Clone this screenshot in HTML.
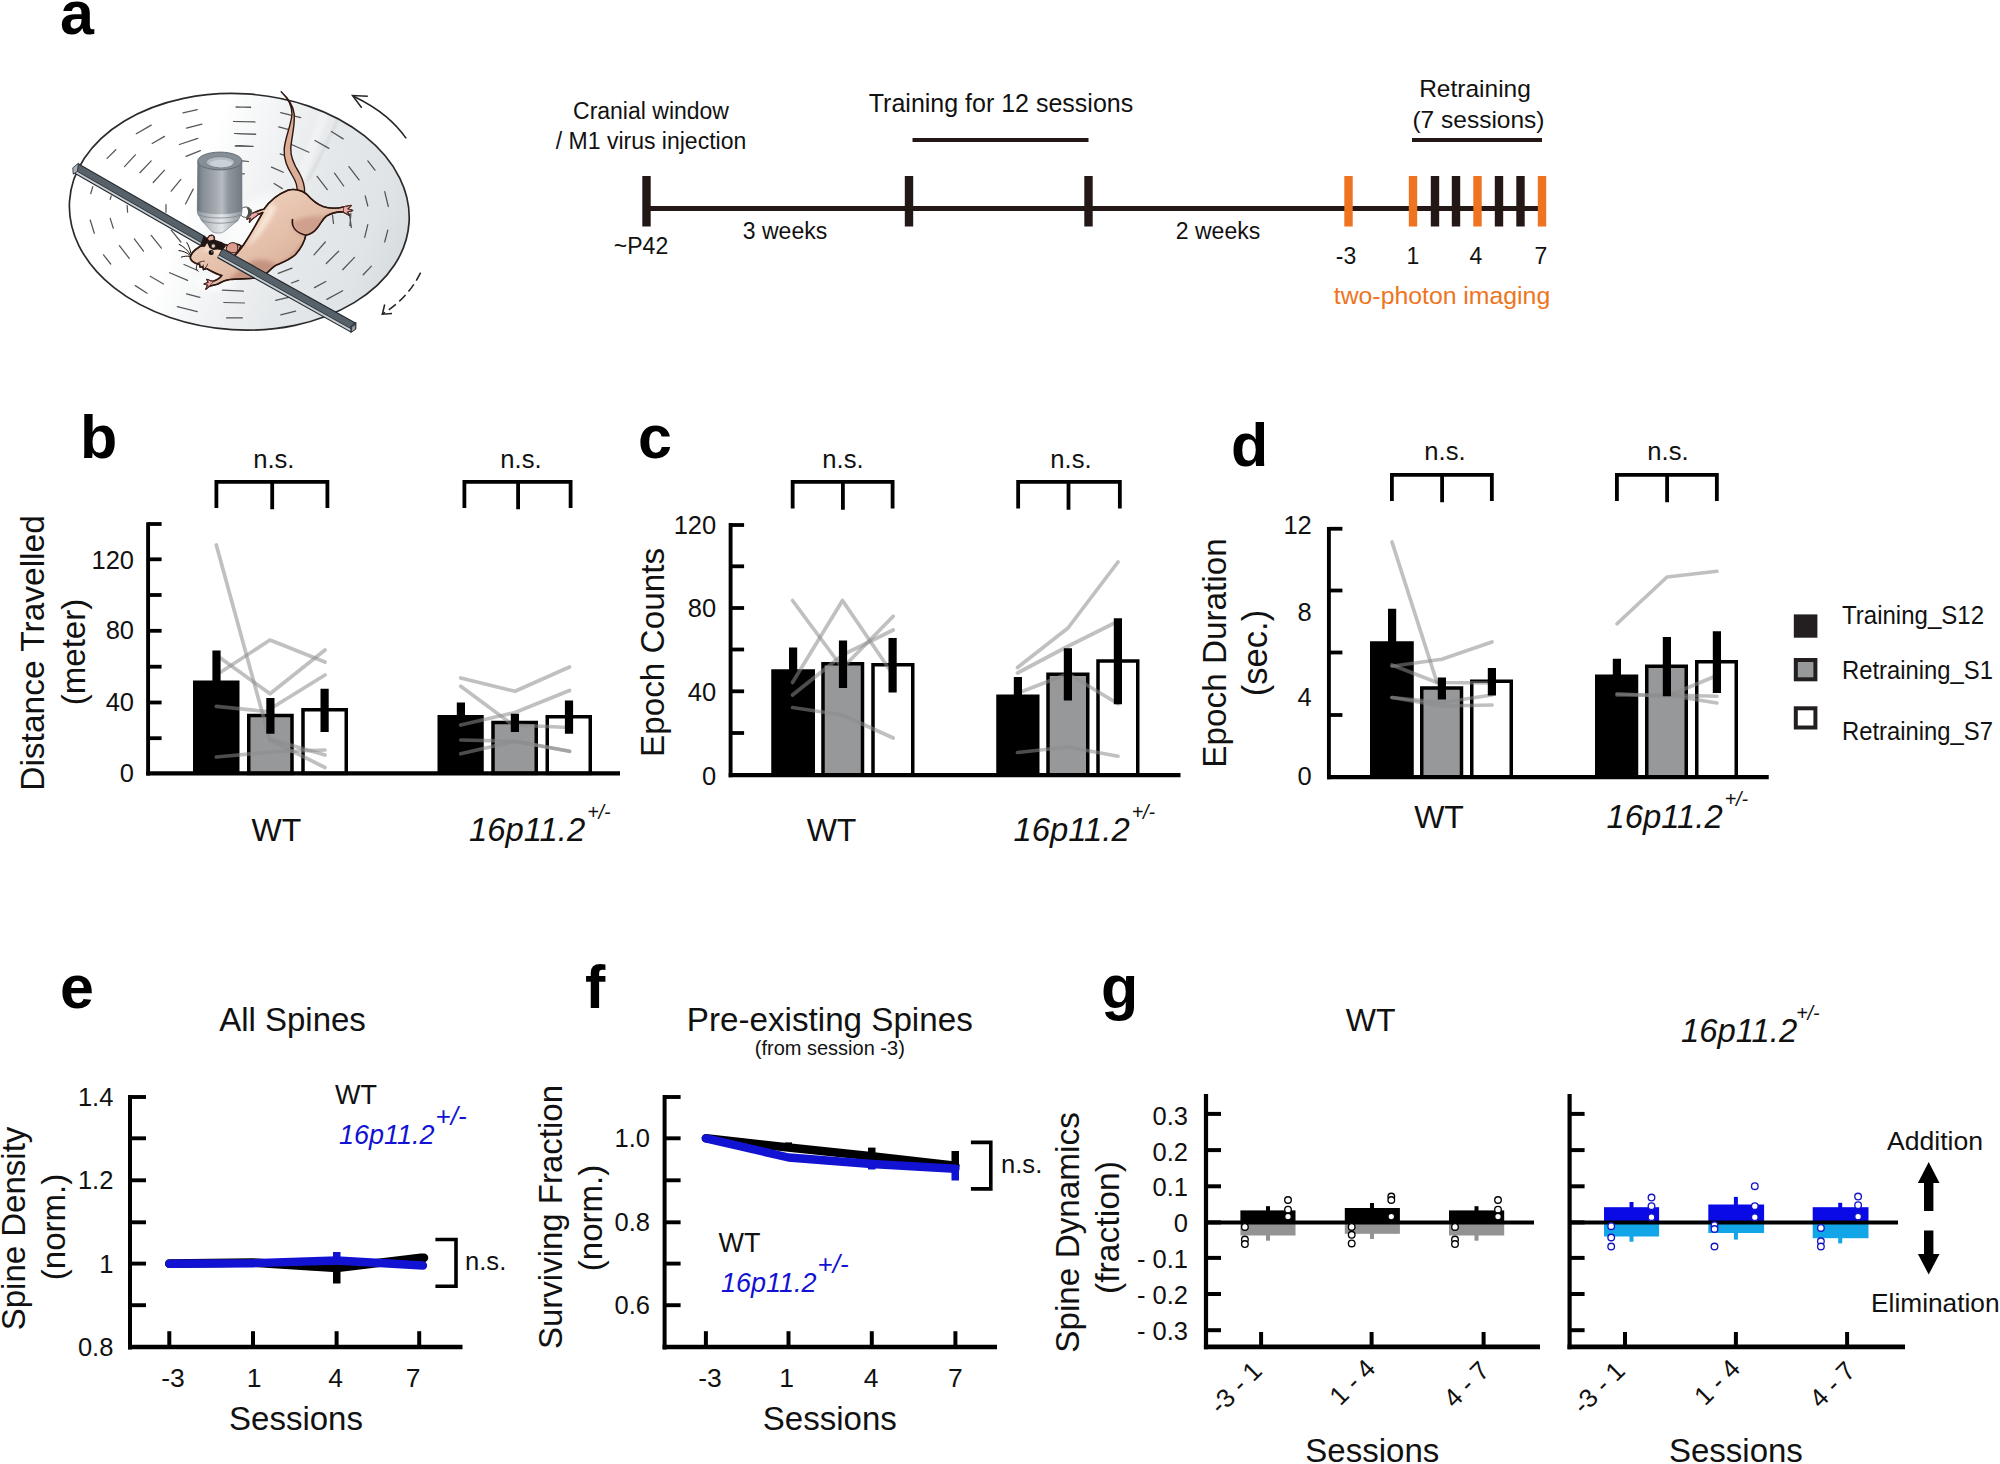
<!DOCTYPE html>
<html><head><meta charset="utf-8"><title>Figure</title>
<style>
html,body{margin:0;padding:0;background:#fff;}
svg{display:block;}
text{font-family:"Liberation Sans",Arial,sans-serif;}
</style></head><body>
<svg width="2000" height="1464" viewBox="0 0 2000 1464">
<rect x="0" y="0" width="2000" height="1464" fill="#fff"/>
<defs>
<linearGradient id="gdisc" gradientUnits="userSpaceOnUse" x1="170" y1="180" x2="400" y2="250">
 <stop offset="0.1" stop-color="#ffffff"/><stop offset="0.33" stop-color="#f1f3f4"/>
 <stop offset="0.6" stop-color="#e5e8ea"/><stop offset="0.85" stop-color="#e0e4e6"/><stop offset="1" stop-color="#d8dde0"/>
</linearGradient>
<filter id="blur2" x="-20%" y="-20%" width="140%" height="140%"><feGaussianBlur stdDeviation="2.2"/></filter>
<filter id="blur1" x="-20%" y="-20%" width="140%" height="140%"><feGaussianBlur stdDeviation="1.2"/></filter>
<radialGradient id="gspot" cx="0.5" cy="0.5" r="0.5">
 <stop offset="0" stop-color="#fff" stop-opacity="0.95"/><stop offset="0.6" stop-color="#fff" stop-opacity="0.6"/><stop offset="1" stop-color="#fff" stop-opacity="0"/>
</radialGradient>
<linearGradient id="gobj" x1="0" y1="0" x2="1" y2="0">
 <stop offset="0" stop-color="#6b737a"/><stop offset="0.12" stop-color="#868e95"/><stop offset="0.42" stop-color="#a4abb1"/>
 <stop offset="0.55" stop-color="#b7bdc2"/><stop offset="0.7" stop-color="#8f979e"/><stop offset="1" stop-color="#727a82"/>
</linearGradient>
<linearGradient id="gobj2" x1="0" y1="0" x2="1" y2="0">
 <stop offset="0" stop-color="#8d959b"/><stop offset="0.35" stop-color="#c9ced2"/><stop offset="0.55" stop-color="#e4e7e9"/>
 <stop offset="0.8" stop-color="#b0b7bc"/><stop offset="1" stop-color="#8e969c"/>
</linearGradient>
<linearGradient id="gbody" x1="0" y1="0" x2="1" y2="1">
 <stop offset="0" stop-color="#f4dccb"/><stop offset="0.45" stop-color="#e6c2ad"/><stop offset="1" stop-color="#cfa08b"/>
</linearGradient>
<clipPath id="cdisc"><ellipse cx="239.3" cy="211.8" rx="170.1" ry="118.1" transform="rotate(3.57 239.3 211.8)"/></clipPath>
</defs>
<g id="illus">
<ellipse cx="239.3" cy="211.8" rx="170.1" ry="118.1" transform="rotate(3.57 239.3 211.8)" fill="url(#gdisc)"/>
<g clip-path="url(#cdisc)">
<ellipse cx="255" cy="225" rx="46" ry="30" transform="rotate(-38 255 225)" fill="url(#gspot)"/>
<ellipse cx="215" cy="283" rx="26" ry="11" fill="url(#gspot)" fill-opacity="0.8"/>
<path d="M300 178 C312 150 318 130 326 108" fill="none" stroke="#f4f6f7" stroke-width="9" stroke-opacity="0.55" stroke-linecap="round" filter="url(#blur1)"/>
<path d="M308 180 C322 155 330 135 340 116" fill="none" stroke="#cbd1d5" stroke-width="3" stroke-opacity="0.5" stroke-linecap="round" filter="url(#blur1)"/>
</g>
<ellipse cx="239.3" cy="211.8" rx="170.1" ry="118.1" transform="rotate(3.57 239.3 211.8)" fill="none" stroke="#2a2a2c" stroke-width="1.7"/>
<path d="M183.0 112.8L197.3 109.7 M236.2 107.2L250.6 107.2 M234.2 121.5L254.7 121.8 M186.5 128.2L201.9 124.1 M235.7 133.6L255.7 134.3 M136.3 133.8L151.2 125.1 M152.2 143.5L164.5 136.4 M179.4 144.5L197.8 138.4 M236.2 145.6L252.6 146.4 M186.0 156.3L200.4 150.7 M107.1 158.4L115.8 149.7 M124.5 166.6L135.3 154.8 M139.9 172.7L151.2 160.9 M153.2 182.5L164.5 170.2 M171.2 191.2L180.9 179.4 M185.5 204.0L193.2 189.1 M90.7 193.7L92.8 186.6 M110.2 199.4L111.2 195.8 M127.6 212.2L127.1 205.5 M166.0 212.2L166.0 204.5 M242.4 160.9L248.5 161.5 M242.4 173.8L244.4 173.8 M236.1 106.8L250.5 107.5 M233.6 121.5L255.1 122.0 M234.6 133.5L255.6 134.1 M235.1 146.1L253.1 146.4 M280.7 112.6L300.7 117.7 M278.7 126.9L288.9 129.7 M291.5 144.5L308.9 152.2 M280.2 153.8L285.8 155.8 M271.5 167.1L283.3 172.2 M274.1 183.5L282.3 188.6 M315.0 140.5L328.9 148.4 M331.4 131.5L343.2 138.9 M317.1 176.3L327.3 189.6 M334.5 173.2L343.7 186.0 M348.9 166.6L359.1 179.9 M367.8 160.9L375.0 170.2 M384.7 191.7L388.3 206.5 M365.2 195.8L367.8 206.0 M332.5 215.2L333.5 223.4 M349.4 214.2L351.4 227.5 M350.9 213.3L349.9 225.6 M367.8 224.6L364.7 237.4 M387.8 230.2L384.7 242.0 M325.3 242.0L314.0 254.8 M338.6 251.2L326.3 263.5 M354.5 257.4L342.7 269.7 M371.4 266.1L363.2 274.8 M292.0 268.1L278.2 273.3 M298.6 280.4L291.5 283.0 M325.8 281.5L314.5 287.6 M342.7 290.7L326.8 299.4 M290.5 296.8L275.6 300.4 M295.6 311.2L280.7 314.8 M90.2 220.0L94.3 233.3 M110.2 218.4L113.3 228.2 M103.5 254.8L110.7 264.0 M119.4 245.6L129.2 258.4 M134.3 238.9L143.5 251.2 M151.2 235.3L161.4 248.2 M171.2 230.2L180.9 242.0 M184.0 264.5L197.3 270.2 M169.6 272.7L187.6 280.4 M150.2 276.3L163.5 284.0 M135.3 285.6L147.1 293.2 M186.5 293.8L199.9 297.3 M177.3 306.6L197.3 311.7 M222.4 290.2L243.4 291.2 M223.9 302.5L244.4 303.0 M226.5 317.8L242.4 317.8" fill="none" stroke="#444446" stroke-width="1.25" stroke-linecap="round" stroke-opacity="0.9"/>
<path d="M406.2 138.4 C396 124 382 110 353 96" fill="none" stroke="#242424" stroke-width="1.55"/>
<path d="M367.8 96.2 L352.6 95.6 L361.7 107.7" fill="none" stroke="#242424" stroke-width="1.55"/>
<path d="M420.6 272.7 C412 290 400 303 382.5 314" fill="none" stroke="#242424" stroke-width="1.55" stroke-dasharray="9 4.5"/>
<path d="M384.7 304.5 L382.3 314.2 L392 313.6" fill="none" stroke="#242424" stroke-width="1.55"/>
<path d="M281.2 91.8 C288 98 293.2 105 294.2 114 C295.2 125 291.6 137 290.8 148 C290.3 158 294.5 165.5 299 172.5 C303 179.5 305 186 304.6 193 L297 192.5 C298 187 295.8 181 292 175 C287.5 167.5 283.5 160 284.2 149 C285 138 291.2 125 292 114 C292.2 106 288 98.5 281.2 91.8Z" fill="#dcae98" stroke="#2e1710" stroke-width="1.4" stroke-linejoin="round"/>
<path d="M287.4 190.4 C293 188.5 301 189.5 306.5 194 C311 199 316 204 323 206.5 C330 209 337 208.5 343.5 207 L351 205.5 L347.5 209 L352.5 210.5 L347 212 L349 215 L343.5 212 C338 211.5 332 213 326.5 216 C322.5 219 321 223 318 227 C314.5 232 310 234.5 305.8 235.2 C304.5 242 300.5 249 295.5 254.5 C290.5 259.5 282.5 262.5 275.5 265.5 C270.5 268.5 268 273 262 277 C252 279.5 240 278.5 230 279.5 C225 280 221 282 217.5 284.2 L209 286.3 L206 289 L208 285 L204.3 284 L208.5 282.5 L207 279.5 L212 281.5 C216 280.5 219.5 278.8 221.8 275.5 C216 274 210 270.5 206.5 268.5 L203.5 269.6 L202.8 266.8 L200 267 L199.5 264.3 L196.5 263.7 C193.5 262.3 190.6 260.5 190.3 257.8 C190.5 255 192 252.5 195 250 C199.5 246.5 205 243.5 208 241.5 C207 238 209 235 212.5 235.5 C214.5 236.5 214.6 239.5 213.6 242 C220 243.5 227 245 232 246.5 C234.5 244 238.5 243.5 241 246 C239 251 236.5 254.5 233.5 256.5 C238 252.5 243 246 247 239.5 C252.5 231 257.5 221.5 262.8 212.5 L258 214.5 L252 219 L249.5 222 L250.8 217.8 L247 219 L250 215.5 L247.5 213.2 L252.5 213.5 C256 211.8 260 209.5 263.8 209.3 C268.5 202.5 277 194.5 287.4 190.4Z" fill="url(#gbody)" stroke="#2e1710" stroke-width="1.2" stroke-linejoin="round"/>
<clipPath id="cbody"><path d="M287.4 190.4 C293 188.5 301 189.5 306.5 194 C311 199 316 204 323 206.5 C330 209 337 208.5 343.5 207 L351 205.5 L347.5 209 L352.5 210.5 L347 212 L349 215 L343.5 212 C338 211.5 332 213 326.5 216 C322.5 219 321 223 318 227 C314.5 232 310 234.5 305.8 235.2 C304.5 242 300.5 249 295.5 254.5 C290.5 259.5 282.5 262.5 275.5 265.5 C270.5 268.5 268 273 262 277 C252 279.5 240 278.5 230 279.5 C225 280 221 282 217.5 284.2 L209 286.3 L206 289 L208 285 L204.3 284 L208.5 282.5 L207 279.5 L212 281.5 C216 280.5 219.5 278.8 221.8 275.5 C216 274 210 270.5 206.5 268.5 L203.5 269.6 L202.8 266.8 L200 267 L199.5 264.3 L196.5 263.7 C193.5 262.3 190.6 260.5 190.3 257.8 C190.5 255 192 252.5 195 250 C199.5 246.5 205 243.5 208 241.5 C207 238 209 235 212.5 235.5 C214.5 236.5 214.6 239.5 213.6 242 C220 243.5 227 245 232 246.5 C234.5 244 238.5 243.5 241 246 C239 251 236.5 254.5 233.5 256.5 C238 252.5 243 246 247 239.5 C252.5 231 257.5 221.5 262.8 212.5 L258 214.5 L252 219 L249.5 222 L250.8 217.8 L247 219 L250 215.5 L247.5 213.2 L252.5 213.5 C256 211.8 260 209.5 263.8 209.3 C268.5 202.5 277 194.5 287.4 190.4Z"/></clipPath>
<g clip-path="url(#cbody)">
<path d="M262 279 C250 281.5 238 280 228 281 C236 272 242 268 250 262 C258 258 268 260 277 264 C272 268.5 268 274 262 279Z" fill="#bd8b78" fill-opacity="0.8" filter="url(#blur2)"/>
<path d="M292 222 C292 228 296 234 305.8 237 C312 236 316 233 320 228 C323 224 325 220 330 216 C318 216 302 216 292 222Z" fill="#cb9b87" fill-opacity="0.85" filter="url(#blur2)"/>
<path d="M300 245 C294 255 285 262 272 267 L280 272 C292 266 302 256 308 240Z" fill="#c6947f" fill-opacity="0.75" filter="url(#blur2)"/>
<path d="M270 203 C263 217 256 231 247 246 C258 240 268 225 277 207Z" fill="#fae9da" fill-opacity="0.9" filter="url(#blur2)"/>
<path d="M206 246 C214 247 224 250 230 253 L226 258 C218 255 210 252 202 252Z" fill="#f6dcc8" fill-opacity="0.7" filter="url(#blur1)"/>
</g>
<path d="M287.4 190.4 C293 188.5 301 189.5 306.5 194 C311 199 316 204 323 206.5 C330 209 337 208.5 343.5 207 L351 205.5 L347.5 209 L352.5 210.5 L347 212 L349 215 L343.5 212 C338 211.5 332 213 326.5 216 C322.5 219 321 223 318 227 C314.5 232 310 234.5 305.8 235.2 C304.5 242 300.5 249 295.5 254.5 C290.5 259.5 282.5 262.5 275.5 265.5 C270.5 268.5 268 273 262 277 C252 279.5 240 278.5 230 279.5 C225 280 221 282 217.5 284.2 L209 286.3 L206 289 L208 285 L204.3 284 L208.5 282.5 L207 279.5 L212 281.5 C216 280.5 219.5 278.8 221.8 275.5 C216 274 210 270.5 206.5 268.5 L203.5 269.6 L202.8 266.8 L200 267 L199.5 264.3 L196.5 263.7 C193.5 262.3 190.6 260.5 190.3 257.8 C190.5 255 192 252.5 195 250 C199.5 246.5 205 243.5 208 241.5 C207 238 209 235 212.5 235.5 C214.5 236.5 214.6 239.5 213.6 242 C220 243.5 227 245 232 246.5 C234.5 244 238.5 243.5 241 246 C239 251 236.5 254.5 233.5 256.5 C238 252.5 243 246 247 239.5 C252.5 231 257.5 221.5 262.8 212.5 L258 214.5 L252 219 L249.5 222 L250.8 217.8 L247 219 L250 215.5 L247.5 213.2 L252.5 213.5 C256 211.8 260 209.5 263.8 209.3 C268.5 202.5 277 194.5 287.4 190.4Z" fill="none" stroke="#2e1710" stroke-width="1.65" stroke-linejoin="round"/>
<path d="M292.5 219.5 C291.5 226 295 232.5 305.8 235.2" fill="none" stroke="#2e1710" stroke-width="1.7" stroke-linecap="round"/>
<path d="M343.5 207 L351 205.5 L347.5 209 L352.5 210.5 L347 212 L349 215 L343.5 212Z" fill="#eeaaa8" stroke="#5a2a25" stroke-width="0.8"/>
<path d="M258 214.5 L252 219 L249.5 222 L250.8 217.8 L247 219 L250 215.5 L247.5 213.2 L252.5 213.5 L256.5 212Z" fill="#eeaaa8" stroke="#5a2a25" stroke-width="0.8"/>
<path d="M214.5 280.7 L209 286.3 L206 289 L208 285 L204.3 284 L208.5 282.5 L207 279.5 L212 281.5Z" fill="#eeaaa8" stroke="#5a2a25" stroke-width="0.8"/>
<path d="M226.3 250 C226 245 230 241.5 235 243 C238.5 244.5 238.5 249 236.5 252.5 C233.5 253.5 229 252.5 226.3 250Z" fill="#d99c8f" stroke="#2e1710" stroke-width="1"/>
<path d="M207.7 241.5 C206.8 238 209 235 212.5 235.5 C214.5 236.5 214.6 239.5 213.6 242Z" fill="#e7b3a4" stroke="#2e1710" stroke-width="1"/>
<circle cx="211.2" cy="252.6" r="2.5" fill="#0d0d0d"/><circle cx="211.9" cy="251.9" r="0.6" fill="#fff"/>
<path d="M196.5 263.7 C199 262 201.5 261 204.8 261.2 M199.5 264.3 L200.2 262.3 M202.8 266.8 L203.4 264.6 M205 268 C206.5 266.5 207.3 265.5 207.8 263.6" fill="none" stroke="#2e1710" stroke-width="0.8"/>
<path d="M190.6 254.8 C187 249.5 183.5 246.5 178.8 244.2 M190.3 255.5 C186 252 182.5 251 178.5 250.5 M191 253.6 C190 248.5 188.5 245.5 186.6 242.2 M190.8 256.5 C187 255.8 184 256.2 181 257.2 M197.3 264.5 C195.5 268 196.5 270 198.5 271.5" fill="none" stroke="#1a1210" stroke-width="1"/>
<path d="M78.4 163.2L205.5 236.2L200.3 246.0L73.2 173.0Z" fill="#20252a"/>
<path d="M78.60000000000001 164.5L204.7 236.9L201.6 242.4L75.5 170.0Z" fill="#57616a"/>
<path d="M75.0 170.5L201.1 242.9L200.5 244.8L74.10000000000001 172.2Z" fill="#c6cdd2"/>
<path d="M222.3 248.0L356 322.7L350.8 332.6L217.10000000000002 257.9Z" fill="#20252a"/>
<path d="M222.5 249.3L355.2 323.4L352.1 329.0L219.4 254.9Z" fill="#57616a"/>
<path d="M218.9 255.4L351.6 329.5L351.0 331.4L218.0 257.1Z" fill="#c6cdd2"/>
<path d="M78.4 163.2 L72.8 167.8 L73.2 174.2 L77.4 171.5Z" fill="#aab2b8" stroke="#20252a" stroke-width="0.8"/>
<path d="M356 322.4 L351 326.2 L350.8 332.6 L355.8 329.2Z" fill="#4a5259" stroke="#20252a" stroke-width="0.9"/>
<path d="M352.2 327.2 L352.1 331.2 L354.9 329.2 L354.9 325.4Z" fill="#9aa2a8"/>
<path d="M203.6 235.4 L206.2 236.9 L208.5 239.5 L205 246.8 L201.2 246.9 L200.6 244.6Z" fill="#1f1512"/>
<path d="M204.8 237.9 L209.5 240.6 L214.1 239.6 L222.3 242.3 L226 246 L222.3 250.2 L217.6 249.5 L213 250 L209.5 248.1 L207.2 242.9Z" fill="#1f1512"/>
<circle cx="213.3" cy="246" r="2.2" fill="#dcc9bf" stroke="#1f1512" stroke-width="0.8"/>
<ellipse cx="245.8" cy="212.2" rx="6" ry="5.2" fill="#fff" stroke="#3a3a3a" stroke-width="0.9"/>
<path d="M246.5 207.6 C250.5 208 252.3 211 251.3 214.5 C250 216.8 247.5 217.3 246.3 216.8 C248.5 214.5 248.8 210.5 246.5 207.6Z" fill="#4a4f4a"/>
<path d="M197.8 161 L197.3 211 C197.3 213.5 198 215 199.5 216.5 C200.2 218 200.6 219.2 201.6 220.6 L211.8 231.6 C215 233.6 221.5 233.6 224 231.6 L237.8 220.6 C238.8 219.2 239.2 218 240 216.5 C241.4 215 242 213.5 242 211 L241.9 161Z" fill="url(#gobj2)" stroke="#6a7278" stroke-width="0.6"/>
<path d="M197.8 161 L197.3 210.5 C205 215.5 234 215.5 242 210.5 L241.9 161Z" fill="url(#gobj)"/>
<path d="M198.6 214.8 C207 219 233 219 241 214.8 M201.2 220.2 C209 224.2 231 224.2 238.2 220.2" fill="none" stroke="#7d858b" stroke-width="0.8"/>
<ellipse cx="219.85" cy="161" rx="22.05" ry="8.9" fill="#878f96" stroke="#5f676e" stroke-width="0.9"/>
<ellipse cx="220.3" cy="162.2" rx="14.3" ry="5.6" fill="#b4bcc2" stroke="#757e86" stroke-width="0.9"/>
<ellipse cx="221.2" cy="163.6" rx="11.2" ry="3.8" fill="#cbd2d7"/>
</g>
<text x="60" y="34" font-size="61" font-weight="bold" fill="#000">a</text>
<text x="80" y="458" font-size="61" font-weight="bold" fill="#000">b</text>
<text x="638" y="458" font-size="61" font-weight="bold" fill="#000">c</text>
<text x="1231" y="466" font-size="61" font-weight="bold" fill="#000">d</text>
<text x="60" y="1008" font-size="61" font-weight="bold" fill="#000">e</text>
<text x="585" y="1008" font-size="61" font-weight="bold" fill="#000">f</text>
<text x="1101" y="1008" font-size="61" font-weight="bold" fill="#000">g</text>
<line x1="646" y1="208.5" x2="1542" y2="208.5" stroke="#231815" stroke-width="5" />
<rect x="642.3" y="176" width="8.4" height="50.5" fill="#231815" />
<rect x="904.8" y="176" width="8.4" height="50.5" fill="#231815" />
<rect x="1084.3" y="176" width="8.4" height="50.5" fill="#231815" />
<rect x="1430.8" y="176" width="8.4" height="50.5" fill="#231815" />
<rect x="1451.8" y="176" width="8.4" height="50.5" fill="#231815" />
<rect x="1494.8" y="176" width="8.4" height="50.5" fill="#231815" />
<rect x="1516.3" y="176" width="8.4" height="50.5" fill="#231815" />
<rect x="1344.3" y="176" width="8.4" height="50.5" fill="#ee7421" />
<rect x="1408.8" y="176" width="8.4" height="50.5" fill="#ee7421" />
<rect x="1473.3" y="176" width="8.4" height="50.5" fill="#ee7421" />
<rect x="1537.8" y="176" width="8.4" height="50.5" fill="#ee7421" />
<line x1="912.5" y1="140" x2="1088.5" y2="140" stroke="#231815" stroke-width="4.2" />
<line x1="1412" y1="140" x2="1542" y2="140" stroke="#231815" stroke-width="4.2" />
<text x="651" y="119" font-size="23" text-anchor="middle" fill="#111" >Cranial window</text>
<text x="651" y="149" font-size="23" text-anchor="middle" fill="#111" >/ M1 virus injection</text>
<text x="1001" y="112" font-size="25" text-anchor="middle" fill="#111" >Training for 12 sessions</text>
<text x="1475" y="97" font-size="24.5" text-anchor="middle" fill="#111" >Retraining</text>
<text x="1478.5" y="128" font-size="24.5" text-anchor="middle" fill="#111" >(7 sessions)</text>
<text x="641" y="254" font-size="23" text-anchor="middle" fill="#111" >~P42</text>
<text x="785" y="239" font-size="23" text-anchor="middle" fill="#111" >3 weeks</text>
<text x="1218" y="239" font-size="23" text-anchor="middle" fill="#111" >2 weeks</text>
<text x="1346" y="264" font-size="23" text-anchor="middle" fill="#111" >-3</text>
<text x="1413" y="264" font-size="23" text-anchor="middle" fill="#111" >1</text>
<text x="1476" y="264" font-size="23" text-anchor="middle" fill="#111" >4</text>
<text x="1541" y="264" font-size="23" text-anchor="middle" fill="#111" >7</text>
<text x="1442" y="304" font-size="24.8" text-anchor="middle" fill="#ee7421" >two-photon imaging</text>
<rect x="193" y="680.5" width="46.5" height="92.89999999999998" fill="#000" />
<rect x="248.75" y="715.5" width="43.25" height="57.89999999999998" fill="#96989a" stroke="#000" stroke-width="3.5" />
<rect x="303.0" y="709.75" width="43.25" height="63.64999999999998" fill="#fff" stroke="#000" stroke-width="3.5" />
<rect x="437.5" y="715" width="46.25" height="58.39999999999998" fill="#000" />
<rect x="493.0" y="722.5" width="43.25" height="50.89999999999998" fill="#96989a" stroke="#000" stroke-width="3.5" />
<rect x="547.25" y="716.75" width="43.0" height="56.64999999999998" fill="#fff" stroke="#000" stroke-width="3.5" />
<polyline points="216.3,545 269.5,739 325,755" fill="none" stroke="#8c8c8c" stroke-width="3.7" stroke-opacity="0.55" stroke-linejoin="round" stroke-linecap="round" />
<polyline points="216.3,655 270,693.8 325,650" fill="none" stroke="#8c8c8c" stroke-width="3.7" stroke-opacity="0.55" stroke-linejoin="round" stroke-linecap="round" />
<polyline points="216.3,675 270,640 325,662" fill="none" stroke="#8c8c8c" stroke-width="3.7" stroke-opacity="0.55" stroke-linejoin="round" stroke-linecap="round" />
<polyline points="216.3,706.3 266,711.5 325,675" fill="none" stroke="#8c8c8c" stroke-width="3.7" stroke-opacity="0.55" stroke-linejoin="round" stroke-linecap="round" />
<polyline points="216.3,757 270,752 325,750" fill="none" stroke="#8c8c8c" stroke-width="3.7" stroke-opacity="0.55" stroke-linejoin="round" stroke-linecap="round" />
<polyline points="270,740 325,767.5" fill="none" stroke="#8c8c8c" stroke-width="3.7" stroke-opacity="0.55" stroke-linejoin="round" stroke-linecap="round" />
<polyline points="460.75,678 515,691.3 569.5,667" fill="none" stroke="#8c8c8c" stroke-width="3.7" stroke-opacity="0.55" stroke-linejoin="round" stroke-linecap="round" />
<polyline points="460.75,686.3 513,725 569.5,727.5" fill="none" stroke="#8c8c8c" stroke-width="3.7" stroke-opacity="0.55" stroke-linejoin="round" stroke-linecap="round" />
<polyline points="460.75,725 515,712.5 569.5,690.5" fill="none" stroke="#8c8c8c" stroke-width="3.7" stroke-opacity="0.55" stroke-linejoin="round" stroke-linecap="round" />
<polyline points="460.75,740 515,741.3 569.5,751.3" fill="none" stroke="#8c8c8c" stroke-width="3.7" stroke-opacity="0.55" stroke-linejoin="round" stroke-linecap="round" />
<polyline points="460.75,753.8 515,741.3 569.5,751.3" fill="none" stroke="#8c8c8c" stroke-width="3.7" stroke-opacity="0.55" stroke-linejoin="round" stroke-linecap="round" />
<rect x="212.4" y="650.5" width="8.2" height="30.5" fill="#000" />
<rect x="266.29999999999995" y="698" width="8.2" height="35.75" fill="#000" />
<rect x="320.5" y="688.75" width="8.2" height="43.25" fill="#000" />
<rect x="456.79999999999995" y="702.5" width="8.2" height="13.5" fill="#000" />
<rect x="510.79999999999995" y="713.75" width="8.2" height="18.25" fill="#000" />
<rect x="564.9" y="700.5" width="8.2" height="33.25" fill="#000" />
<line x1="148.1" y1="522.2" x2="148.1" y2="775.4" stroke="#000" stroke-width="3.9" />
<line x1="146.2" y1="773.4" x2="620" y2="773.4" stroke="#000" stroke-width="4.3" />
<line x1="148.1" y1="524" x2="161.6" y2="524" stroke="#000" stroke-width="3.8" />
<line x1="148.1" y1="559.3" x2="161.6" y2="559.3" stroke="#000" stroke-width="3.8" />
<line x1="148.1" y1="595" x2="161.6" y2="595" stroke="#000" stroke-width="3.8" />
<line x1="148.1" y1="630.8" x2="161.6" y2="630.8" stroke="#000" stroke-width="3.8" />
<line x1="148.1" y1="666.7" x2="161.6" y2="666.7" stroke="#000" stroke-width="3.8" />
<line x1="148.1" y1="702.5" x2="161.6" y2="702.5" stroke="#000" stroke-width="3.8" />
<line x1="148.1" y1="738.2" x2="161.6" y2="738.2" stroke="#000" stroke-width="3.8" />
<text x="134" y="568.5" font-size="25.5" text-anchor="end" fill="#111" >120</text>
<text x="134" y="639" font-size="25.5" text-anchor="end" fill="#111" >80</text>
<text x="134" y="710.6" font-size="25.5" text-anchor="end" fill="#111" >40</text>
<text x="134" y="781.8" font-size="25.5" text-anchor="end" fill="#111" >0</text>
<path d="M216.4 508V481.9H327.4V508M272.2 481.9V509.2" fill="none" stroke="#000" stroke-width="3.8"/>
<path d="M464.4 508V481.9H570.6V508M518.1 481.9V509.2" fill="none" stroke="#000" stroke-width="3.8"/>
<text x="273.8" y="467.8" font-size="25.6" text-anchor="middle" fill="#111" >n.s.</text>
<text x="521" y="467.8" font-size="25.6" text-anchor="middle" fill="#111" >n.s.</text>
<text transform="translate(43.8 653) rotate(-90)" font-size="33.5" text-anchor="middle" fill="#111" >Distance Travelled</text>
<text transform="translate(85 652) rotate(-90)" font-size="33" text-anchor="middle" fill="#111" >(meter)</text>
<text x="276.4" y="841" font-size="32" text-anchor="middle" fill="#111" >WT</text>
<text x="469" y="841" font-size="32.8" font-style="italic" text-anchor="start" fill="#111">16p11.2<tspan font-size="19.7" dy="-22.1" dx="2">+/-</tspan></text>
<rect x="771.25" y="669.25" width="43.75" height="105.95000000000005" fill="#000" />
<rect x="823.0" y="663.75" width="39.5" height="111.45000000000005" fill="#96989a" stroke="#000" stroke-width="3.5" />
<rect x="873.0" y="664.75" width="39.75" height="110.45000000000005" fill="#fff" stroke="#000" stroke-width="3.5" />
<rect x="996.25" y="694.5" width="43.25" height="80.70000000000005" fill="#000" />
<rect x="1048.0" y="674.25" width="39.75" height="100.95000000000005" fill="#96989a" stroke="#000" stroke-width="3.5" />
<rect x="1098.0" y="661.0" width="39.75" height="114.20000000000005" fill="#fff" stroke="#000" stroke-width="3.5" />
<polyline points="792.5,600.5 842.5,668 893.25,616.25" fill="none" stroke="#8c8c8c" stroke-width="3.7" stroke-opacity="0.55" stroke-linejoin="round" stroke-linecap="round" />
<polyline points="792.5,682.5 842.5,600.5 893.25,675" fill="none" stroke="#8c8c8c" stroke-width="3.7" stroke-opacity="0.55" stroke-linejoin="round" stroke-linecap="round" />
<polyline points="792.5,695 842.5,655 893.25,630" fill="none" stroke="#8c8c8c" stroke-width="3.7" stroke-opacity="0.55" stroke-linejoin="round" stroke-linecap="round" />
<polyline points="792.5,707.5 842.5,715 893.25,738" fill="none" stroke="#8c8c8c" stroke-width="3.7" stroke-opacity="0.55" stroke-linejoin="round" stroke-linecap="round" />
<polyline points="1017.5,667.5 1068,628 1118,562" fill="none" stroke="#8c8c8c" stroke-width="3.7" stroke-opacity="0.55" stroke-linejoin="round" stroke-linecap="round" />
<polyline points="1017.5,673 1068,646.25 1118,621.25" fill="none" stroke="#8c8c8c" stroke-width="3.7" stroke-opacity="0.55" stroke-linejoin="round" stroke-linecap="round" />
<polyline points="1017.5,693.25 1068,673.75 1118,703.75" fill="none" stroke="#8c8c8c" stroke-width="3.7" stroke-opacity="0.55" stroke-linejoin="round" stroke-linecap="round" />
<polyline points="1017.5,752.5 1068,747 1118,756.25" fill="none" stroke="#8c8c8c" stroke-width="3.7" stroke-opacity="0.55" stroke-linejoin="round" stroke-linecap="round" />
<rect x="789.0" y="647.5" width="8.2" height="22.5" fill="#000" />
<rect x="838.9" y="640.5" width="8.2" height="47.5" fill="#000" />
<rect x="888.5" y="638" width="8.2" height="54.5" fill="#000" />
<rect x="1013.8" y="677" width="8.2" height="19" fill="#000" />
<rect x="1063.8000000000002" y="648.25" width="8.2" height="52.25" fill="#000" />
<rect x="1113.8000000000002" y="618.25" width="8.2" height="86.0" fill="#000" />
<line x1="730.6" y1="523" x2="730.6" y2="777.2" stroke="#000" stroke-width="3.9" />
<line x1="728.7" y1="775.2" x2="1180.5" y2="775.2" stroke="#000" stroke-width="4.3" />
<line x1="730.6" y1="525" x2="744.1" y2="525" stroke="#000" stroke-width="3.8" />
<line x1="730.6" y1="566.3" x2="744.1" y2="566.3" stroke="#000" stroke-width="3.8" />
<line x1="730.6" y1="608" x2="744.1" y2="608" stroke="#000" stroke-width="3.8" />
<line x1="730.6" y1="649.5" x2="744.1" y2="649.5" stroke="#000" stroke-width="3.8" />
<line x1="730.6" y1="691.3" x2="744.1" y2="691.3" stroke="#000" stroke-width="3.8" />
<line x1="730.6" y1="733" x2="744.1" y2="733" stroke="#000" stroke-width="3.8" />
<text x="716.2" y="534.3" font-size="25.5" text-anchor="end" fill="#111" >120</text>
<text x="716.2" y="617" font-size="25.5" text-anchor="end" fill="#111" >80</text>
<text x="716.2" y="700.6" font-size="25.5" text-anchor="end" fill="#111" >40</text>
<text x="716.2" y="785.2" font-size="25.5" text-anchor="end" fill="#111" >0</text>
<path d="M792.65 508.5V481.9H892.6V508.5M842.9 481.9V509.7" fill="none" stroke="#000" stroke-width="3.8"/>
<path d="M1018.15 508.5V481.9H1119.85V508.5M1068.5 481.9V509.7" fill="none" stroke="#000" stroke-width="3.8"/>
<text x="843" y="467.8" font-size="25.6" text-anchor="middle" fill="#111" >n.s.</text>
<text x="1071" y="467.8" font-size="25.6" text-anchor="middle" fill="#111" >n.s.</text>
<text transform="translate(664 652.5) rotate(-90)" font-size="33.3" text-anchor="middle" fill="#111" >Epoch Counts</text>
<text x="831.5" y="841" font-size="32" text-anchor="middle" fill="#111" >WT</text>
<text x="1013.5" y="841" font-size="32.8" font-style="italic" text-anchor="start" fill="#111">16p11.2<tspan font-size="19.7" dy="-22.1" dx="2">+/-</tspan></text>
<rect x="1370" y="641.25" width="43.75" height="135.95000000000005" fill="#000" />
<rect x="1421.75" y="688.0" width="39.75" height="89.20000000000005" fill="#96989a" stroke="#000" stroke-width="3.5" />
<rect x="1471.75" y="681.25" width="39.5" height="95.95000000000005" fill="#fff" stroke="#000" stroke-width="3.5" />
<rect x="1595" y="674.5" width="43.25" height="102.70000000000005" fill="#000" />
<rect x="1646.75" y="666.25" width="39.5" height="110.95000000000005" fill="#96989a" stroke="#000" stroke-width="3.5" />
<rect x="1696.75" y="661.75" width="39.5" height="115.45000000000005" fill="#fff" stroke="#000" stroke-width="3.5" />
<polyline points="1392,542 1437,682.5 1492,683" fill="none" stroke="#8c8c8c" stroke-width="3.7" stroke-opacity="0.55" stroke-linejoin="round" stroke-linecap="round" />
<polyline points="1392,666.25 1441.75,659.25 1492,642" fill="none" stroke="#8c8c8c" stroke-width="3.7" stroke-opacity="0.55" stroke-linejoin="round" stroke-linecap="round" />
<polyline points="1392,665 1437,682.5" fill="none" stroke="#8c8c8c" stroke-width="3.7" stroke-opacity="0.55" stroke-linejoin="round" stroke-linecap="round" />
<polyline points="1392,697.5 1441.75,702.5 1492,695" fill="none" stroke="#8c8c8c" stroke-width="3.7" stroke-opacity="0.55" stroke-linejoin="round" stroke-linecap="round" />
<polyline points="1392,697.5 1441.75,706 1492,705" fill="none" stroke="#8c8c8c" stroke-width="3.7" stroke-opacity="0.55" stroke-linejoin="round" stroke-linecap="round" />
<polyline points="1617,623.75 1667,577 1717,571.25" fill="none" stroke="#8c8c8c" stroke-width="3.7" stroke-opacity="0.55" stroke-linejoin="round" stroke-linecap="round" />
<polyline points="1617,693.75 1667,696.25 1717,675.5" fill="none" stroke="#8c8c8c" stroke-width="3.7" stroke-opacity="0.55" stroke-linejoin="round" stroke-linecap="round" />
<polyline points="1617,695 1667,695 1717,696.25" fill="none" stroke="#8c8c8c" stroke-width="3.7" stroke-opacity="0.55" stroke-linejoin="round" stroke-linecap="round" />
<polyline points="1667,695 1717,703" fill="none" stroke="#8c8c8c" stroke-width="3.7" stroke-opacity="0.55" stroke-linejoin="round" stroke-linecap="round" />
<rect x="1388.0" y="608.75" width="8.2" height="33.25" fill="#000" />
<rect x="1437.8000000000002" y="677.5" width="8.2" height="22.0" fill="#000" />
<rect x="1487.8000000000002" y="668" width="8.2" height="27.5" fill="#000" />
<rect x="1612.8000000000002" y="658.75" width="8.2" height="16.25" fill="#000" />
<rect x="1662.8000000000002" y="637" width="8.2" height="59.25" fill="#000" />
<rect x="1712.8000000000002" y="631.25" width="8.2" height="61.75" fill="#000" />
<line x1="1328.9" y1="527" x2="1328.9" y2="779.2" stroke="#000" stroke-width="3.9" />
<line x1="1327.0" y1="777.2" x2="1768.75" y2="777.2" stroke="#000" stroke-width="4.3" />
<line x1="1328.9" y1="528.75" x2="1342.4" y2="528.75" stroke="#000" stroke-width="3.8" />
<line x1="1328.9" y1="590.5" x2="1342.4" y2="590.5" stroke="#000" stroke-width="3.8" />
<line x1="1328.9" y1="652.5" x2="1342.4" y2="652.5" stroke="#000" stroke-width="3.8" />
<line x1="1328.9" y1="715" x2="1342.4" y2="715" stroke="#000" stroke-width="3.8" />
<text x="1311.8" y="534.3" font-size="25.5" text-anchor="end" fill="#111" >12</text>
<text x="1311.8" y="620.5" font-size="25.5" text-anchor="end" fill="#111" >8</text>
<text x="1311.8" y="705.5" font-size="25.5" text-anchor="end" fill="#111" >4</text>
<text x="1311.8" y="785" font-size="25.5" text-anchor="end" fill="#111" >0</text>
<path d="M1391.9 501V474.9H1491.85V501M1442.1 474.9V502.2" fill="none" stroke="#000" stroke-width="3.8"/>
<path d="M1616.9 501V474.9H1716.85V501M1667.1 474.9V502.2" fill="none" stroke="#000" stroke-width="3.8"/>
<text x="1445" y="460" font-size="25.6" text-anchor="middle" fill="#111" >n.s.</text>
<text x="1668" y="460" font-size="25.6" text-anchor="middle" fill="#111" >n.s.</text>
<text transform="translate(1226 653) rotate(-90)" font-size="33.3" text-anchor="middle" fill="#111" >Epoch Duration</text>
<text transform="translate(1266.5 653) rotate(-90)" font-size="34.5" text-anchor="middle" fill="#111" >(sec.)</text>
<text x="1439" y="828" font-size="32" text-anchor="middle" fill="#111" >WT</text>
<text x="1606.5" y="828" font-size="32.8" font-style="italic" text-anchor="start" fill="#111">16p11.2<tspan font-size="19.7" dy="-22.1" dx="2">+/-</tspan></text>
<rect x="1793.8" y="614.4" width="23.6" height="23.3" fill="#231f20" />
<rect x="1795.8" y="660" width="19.6" height="19.3" fill="#96989a" stroke="#231f20" stroke-width="4" />
<rect x="1795.8" y="708.3" width="19.6" height="19.2" fill="#fff" stroke="#231f20" stroke-width="4" />
<text x="1842" y="623.7" font-size="26" text-anchor="start" fill="#111" textLength="142" lengthAdjust="spacingAndGlyphs" >Training_S12</text>
<text x="1842" y="678.5" font-size="26" text-anchor="start" fill="#111" textLength="151" lengthAdjust="spacingAndGlyphs" >Retraining_S1</text>
<text x="1842" y="739.7" font-size="26" text-anchor="start" fill="#111" textLength="151" lengthAdjust="spacingAndGlyphs" >Retraining_S7</text>
<polyline points="169.3,1263.6 253,1262.5 336.6,1268 421,1257.7 424,1257.7" fill="none" stroke="#000" stroke-width="8.6" stroke-linejoin="round" stroke-linecap="round"/>
<rect x="333" y="1262" width="7.5" height="21.5" fill="#000" />
<rect x="418.5" y="1254" width="7" height="13" fill="#000" />
<rect x="333" y="1252" width="7.5" height="12" fill="#1212d2" />
<polyline points="169.3,1263.8 253,1263.2 336.6,1260.5 423,1265.5" fill="none" stroke="#1212d2" stroke-width="8.4" stroke-linejoin="round" stroke-linecap="round"/>
<line x1="130" y1="1095" x2="130" y2="1349.5" stroke="#000" stroke-width="4" />
<line x1="128" y1="1347.0" x2="462.5" y2="1347.0" stroke="#000" stroke-width="4.6" />
<line x1="130" y1="1097" x2="146" y2="1097" stroke="#000" stroke-width="3.9" />
<line x1="130" y1="1138.3" x2="146" y2="1138.3" stroke="#000" stroke-width="3.9" />
<line x1="130" y1="1180.3" x2="146" y2="1180.3" stroke="#000" stroke-width="3.9" />
<line x1="130" y1="1222.3" x2="146" y2="1222.3" stroke="#000" stroke-width="3.9" />
<line x1="130" y1="1263.6" x2="146" y2="1263.6" stroke="#000" stroke-width="3.9" />
<line x1="130" y1="1305.2" x2="146" y2="1305.2" stroke="#000" stroke-width="3.9" />
<line x1="169.3" y1="1347.2" x2="169.3" y2="1331.2" stroke="#000" stroke-width="4" />
<line x1="253" y1="1347.2" x2="253" y2="1331.2" stroke="#000" stroke-width="4" />
<line x1="336.6" y1="1347.2" x2="336.6" y2="1331.2" stroke="#000" stroke-width="4" />
<line x1="419.2" y1="1347.2" x2="419.2" y2="1331.2" stroke="#000" stroke-width="4" />
<text x="113.4" y="1106" font-size="25.5" text-anchor="end" fill="#111" >1.4</text>
<text x="113.4" y="1189.3" font-size="25.5" text-anchor="end" fill="#111" >1.2</text>
<text x="113.4" y="1272.6" font-size="25.5" text-anchor="end" fill="#111" >1</text>
<text x="113.4" y="1356.2" font-size="25.5" text-anchor="end" fill="#111" >0.8</text>
<text x="173" y="1387" font-size="26.5" text-anchor="middle" fill="#111" >-3</text>
<text x="254" y="1387" font-size="26.5" text-anchor="middle" fill="#111" >1</text>
<text x="335.6" y="1387" font-size="26.5" text-anchor="middle" fill="#111" >4</text>
<text x="413" y="1387" font-size="26.5" text-anchor="middle" fill="#111" >7</text>
<text x="296" y="1430" font-size="33" text-anchor="middle" fill="#111" >Sessions</text>
<text x="292.5" y="1030.6" font-size="33" text-anchor="middle" fill="#111" >All Spines</text>
<text transform="translate(24.5 1228.5) rotate(-90)" font-size="33" text-anchor="middle" fill="#111" >Spine Density</text>
<text transform="translate(64.5 1227) rotate(-90)" font-size="33" text-anchor="middle" fill="#111" >(norm.)</text>
<text x="335" y="1104" font-size="27" text-anchor="start" fill="#111" >WT</text>
<text x="339" y="1144" font-size="27" font-style="italic" text-anchor="start" fill="#1212d2">16p11.2<tspan font-size="25.9" dy="-19.4" dx="1">+/-</tspan></text>
<path d="M435.4 1239.5H456V1286.3H435.4" fill="none" stroke="#000" stroke-width="3.6"/>
<text x="465" y="1269.7" font-size="25.6" text-anchor="start" fill="#111" >n.s.</text>
<polyline points="705.9,1138.3 788.5,1147.6 871.8,1156.2 955.4,1165.8" fill="none" stroke="#000" stroke-width="8.6" stroke-linejoin="round" stroke-linecap="round"/>
<rect x="785" y="1142.4" width="7" height="8" fill="#000" />
<rect x="868" y="1147.6" width="7.5" height="12" fill="#000" />
<rect x="951.5" y="1151" width="7.5" height="18" fill="#000" />
<rect x="868" y="1160" width="7.5" height="9.5" fill="#1212d2" />
<rect x="951.5" y="1165" width="7.5" height="15.5" fill="#1212d2" />
<polyline points="705.9,1138.3 788.5,1157.5 871.8,1164 955.4,1168.8" fill="none" stroke="#1212d2" stroke-width="8.4" stroke-linejoin="round" stroke-linecap="round"/>
<line x1="664.6" y1="1095" x2="664.6" y2="1349.5" stroke="#000" stroke-width="4" />
<line x1="662.6" y1="1347.0" x2="997" y2="1347.0" stroke="#000" stroke-width="4.6" />
<line x1="664.6" y1="1097" x2="680.6" y2="1097" stroke="#000" stroke-width="3.9" />
<line x1="664.6" y1="1138.3" x2="680.6" y2="1138.3" stroke="#000" stroke-width="3.9" />
<line x1="664.6" y1="1180.3" x2="680.6" y2="1180.3" stroke="#000" stroke-width="3.9" />
<line x1="664.6" y1="1222.3" x2="680.6" y2="1222.3" stroke="#000" stroke-width="3.9" />
<line x1="664.6" y1="1263.6" x2="680.6" y2="1263.6" stroke="#000" stroke-width="3.9" />
<line x1="664.6" y1="1305.2" x2="680.6" y2="1305.2" stroke="#000" stroke-width="3.9" />
<line x1="705.9" y1="1347.2" x2="705.9" y2="1331.2" stroke="#000" stroke-width="4" />
<line x1="788.5" y1="1347.2" x2="788.5" y2="1331.2" stroke="#000" stroke-width="4" />
<line x1="871.8" y1="1347.2" x2="871.8" y2="1331.2" stroke="#000" stroke-width="4" />
<line x1="955.4" y1="1347.2" x2="955.4" y2="1331.2" stroke="#000" stroke-width="4" />
<text x="650" y="1147.3" font-size="25.5" text-anchor="end" fill="#111" >1.0</text>
<text x="650" y="1231.3" font-size="25.5" text-anchor="end" fill="#111" >0.8</text>
<text x="650" y="1314.2" font-size="25.5" text-anchor="end" fill="#111" >0.6</text>
<text x="710" y="1387" font-size="26.5" text-anchor="middle" fill="#111" >-3</text>
<text x="786.7" y="1387" font-size="26.5" text-anchor="middle" fill="#111" >1</text>
<text x="871" y="1387" font-size="26.5" text-anchor="middle" fill="#111" >4</text>
<text x="955.4" y="1387" font-size="26.5" text-anchor="middle" fill="#111" >7</text>
<text x="829.8" y="1430" font-size="33" text-anchor="middle" fill="#111" >Sessions</text>
<text x="829.8" y="1030.6" font-size="33.2" text-anchor="middle" fill="#111" >Pre-existing Spines</text>
<text x="829.8" y="1054.7" font-size="20" text-anchor="middle" fill="#111" >(from session -3)</text>
<text transform="translate(561.5 1217) rotate(-90)" font-size="33" text-anchor="middle" fill="#111" >Surviving Fraction</text>
<text transform="translate(602 1218) rotate(-90)" font-size="33" text-anchor="middle" fill="#111" >(norm.)</text>
<text x="718.5" y="1252" font-size="27" text-anchor="start" fill="#111" >WT</text>
<text x="721" y="1292" font-size="27" font-style="italic" text-anchor="start" fill="#1212d2">16p11.2<tspan font-size="25.9" dy="-19.4" dx="1">+/-</tspan></text>
<path d="M970.9 1142.4H990.8V1188.9H970.9" fill="none" stroke="#000" stroke-width="3.6"/>
<text x="1001" y="1172.7" font-size="25.6" text-anchor="start" fill="#111" >n.s.</text>
<rect x="1240.4" y="1210.4" width="55.09999999999991" height="12.0" fill="#000" />
<rect x="1240.4" y="1222.4" width="55.09999999999991" height="13.099999999999909" fill="#939393" />
<rect x="1266" y="1206.2" width="4" height="16.200000000000045" fill="#000" />
<rect x="1266" y="1222.4" width="4" height="18.299999999999955" fill="#939393" />
<rect x="1344.8" y="1208" width="55.100000000000136" height="14.400000000000091" fill="#000" />
<rect x="1344.8" y="1222.4" width="55.100000000000136" height="11.399999999999864" fill="#939393" />
<rect x="1370" y="1203" width="4" height="19.40000000000009" fill="#000" />
<rect x="1370" y="1222.4" width="4" height="16.59999999999991" fill="#939393" />
<rect x="1449" y="1210.4" width="55.200000000000045" height="12.0" fill="#000" />
<rect x="1449" y="1222.4" width="55.200000000000045" height="13.099999999999909" fill="#939393" />
<rect x="1474.5" y="1206.2" width="4" height="16.200000000000045" fill="#000" />
<rect x="1474.5" y="1222.4" width="4" height="18.299999999999955" fill="#939393" />
<line x1="1206" y1="1222.4" x2="1534" y2="1222.4" stroke="#000" stroke-width="4" />
<circle cx="1288" cy="1200" r="3.3" fill="#fff" stroke="#000" stroke-width="1.35"/>
<circle cx="1288" cy="1209.7" r="3.3" fill="#fff" stroke="#000" stroke-width="1.35"/>
<circle cx="1288" cy="1216.6" r="3.3" fill="#fff" stroke="#000" stroke-width="1.35"/>
<circle cx="1244.9" cy="1226.9" r="3.3" fill="#fff" stroke="#000" stroke-width="1.35"/>
<circle cx="1244.9" cy="1239.6" r="3.3" fill="#fff" stroke="#000" stroke-width="1.35"/>
<circle cx="1244.9" cy="1244.1" r="3.3" fill="#fff" stroke="#000" stroke-width="1.35"/>
<circle cx="1391.3" cy="1196.6" r="3.3" fill="#fff" stroke="#000" stroke-width="1.35"/>
<circle cx="1391.3" cy="1200" r="3.3" fill="#fff" stroke="#000" stroke-width="1.35"/>
<circle cx="1391.3" cy="1216.6" r="3.3" fill="#fff" stroke="#000" stroke-width="1.35"/>
<circle cx="1351.7" cy="1226.9" r="3.3" fill="#fff" stroke="#000" stroke-width="1.35"/>
<circle cx="1351.7" cy="1234.8" r="3.3" fill="#fff" stroke="#000" stroke-width="1.35"/>
<circle cx="1351.7" cy="1243.4" r="3.3" fill="#fff" stroke="#000" stroke-width="1.35"/>
<circle cx="1498" cy="1200" r="3.3" fill="#fff" stroke="#000" stroke-width="1.35"/>
<circle cx="1498" cy="1209.7" r="3.3" fill="#fff" stroke="#000" stroke-width="1.35"/>
<circle cx="1498" cy="1216.6" r="3.3" fill="#fff" stroke="#000" stroke-width="1.35"/>
<circle cx="1455" cy="1226.9" r="3.3" fill="#fff" stroke="#000" stroke-width="1.35"/>
<circle cx="1455" cy="1239.6" r="3.3" fill="#fff" stroke="#000" stroke-width="1.35"/>
<circle cx="1455" cy="1244.1" r="3.3" fill="#fff" stroke="#000" stroke-width="1.35"/>
<line x1="1206" y1="1094" x2="1206" y2="1349.3" stroke="#000" stroke-width="4.2" />
<line x1="1203.9" y1="1346.9" x2="1540" y2="1346.9" stroke="#000" stroke-width="4.9" />
<line x1="1206" y1="1113.9" x2="1221" y2="1113.9" stroke="#000" stroke-width="4" />
<line x1="1206" y1="1150.1" x2="1221" y2="1150.1" stroke="#000" stroke-width="4" />
<line x1="1206" y1="1186.3" x2="1221" y2="1186.3" stroke="#000" stroke-width="4" />
<line x1="1206" y1="1222.4" x2="1221" y2="1222.4" stroke="#000" stroke-width="4" />
<line x1="1206" y1="1257.9" x2="1221" y2="1257.9" stroke="#000" stroke-width="4" />
<line x1="1206" y1="1294" x2="1221" y2="1294" stroke="#000" stroke-width="4" />
<line x1="1206" y1="1330.2" x2="1221" y2="1330.2" stroke="#000" stroke-width="4" />
<line x1="1261.1" y1="1347" x2="1261.1" y2="1332" stroke="#000" stroke-width="4" />
<line x1="1371.6" y1="1347" x2="1371.6" y2="1332" stroke="#000" stroke-width="4" />
<line x1="1483.6" y1="1347" x2="1483.6" y2="1332" stroke="#000" stroke-width="4" />
<text x="1188" y="1124.7" font-size="25.5" text-anchor="end" fill="#111" >0.3</text>
<text x="1188" y="1160.5" font-size="25.5" text-anchor="end" fill="#111" >0.2</text>
<text x="1188" y="1196.4" font-size="25.5" text-anchor="end" fill="#111" >0.1</text>
<text x="1188" y="1232.3" font-size="25.5" text-anchor="end" fill="#111" >0</text>
<text x="1188" y="1268.2" font-size="25.5" text-anchor="end" fill="#111" >- 0.1</text>
<text x="1188" y="1304.1" font-size="25.5" text-anchor="end" fill="#111" >- 0.2</text>
<text x="1188" y="1340.2" font-size="25.5" text-anchor="end" fill="#111" >- 0.3</text>
<rect x="1604" y="1207.2" width="55.09999999999991" height="15.200000000000045" fill="#0a0ae6" />
<rect x="1604" y="1222.4" width="55.09999999999991" height="14.099999999999909" fill="#12a5e8" />
<rect x="1629.5" y="1202" width="4" height="20.40000000000009" fill="#0a0ae6" />
<rect x="1629.5" y="1222.4" width="4" height="19.299999999999955" fill="#12a5e8" />
<rect x="1708.3" y="1204.5" width="55.799999999999955" height="17.90000000000009" fill="#0a0ae6" />
<rect x="1708.3" y="1222.4" width="55.799999999999955" height="10.599999999999909" fill="#12a5e8" />
<rect x="1733.9" y="1196.9" width="4" height="25.5" fill="#0a0ae6" />
<rect x="1733.9" y="1222.4" width="4" height="17.199999999999818" fill="#12a5e8" />
<rect x="1812.7" y="1207.2" width="55.799999999999955" height="15.200000000000045" fill="#0a0ae6" />
<rect x="1812.7" y="1222.4" width="55.799999999999955" height="15.799999999999955" fill="#12a5e8" />
<rect x="1838.2" y="1202.8" width="4" height="19.600000000000136" fill="#0a0ae6" />
<rect x="1838.2" y="1222.4" width="4" height="21.0" fill="#12a5e8" />
<line x1="1569.6" y1="1222.4" x2="1898" y2="1222.4" stroke="#000" stroke-width="4" />
<circle cx="1651.5" cy="1197.6" r="3.3" fill="#fff" stroke="#1515c8" stroke-width="1.35"/>
<circle cx="1651.5" cy="1206.2" r="3.3" fill="#fff" stroke="#1515c8" stroke-width="1.35"/>
<circle cx="1651.5" cy="1217.2" r="3.3" fill="#fff" stroke="#1515c8" stroke-width="1.35"/>
<circle cx="1611.2" cy="1226.2" r="3.3" fill="#fff" stroke="#1515c8" stroke-width="1.35"/>
<circle cx="1611.2" cy="1237.5" r="3.3" fill="#fff" stroke="#1515c8" stroke-width="1.35"/>
<circle cx="1611.2" cy="1246.5" r="3.3" fill="#fff" stroke="#1515c8" stroke-width="1.35"/>
<circle cx="1754.8" cy="1186.2" r="3.3" fill="#fff" stroke="#1515c8" stroke-width="1.35"/>
<circle cx="1754.8" cy="1206.2" r="3.3" fill="#fff" stroke="#1515c8" stroke-width="1.35"/>
<circle cx="1754.8" cy="1217.2" r="3.3" fill="#fff" stroke="#1515c8" stroke-width="1.35"/>
<circle cx="1714.5" cy="1225.2" r="3.3" fill="#fff" stroke="#1515c8" stroke-width="1.35"/>
<circle cx="1714.5" cy="1229" r="3.3" fill="#fff" stroke="#1515c8" stroke-width="1.35"/>
<circle cx="1714.5" cy="1246.5" r="3.3" fill="#fff" stroke="#1515c8" stroke-width="1.35"/>
<circle cx="1858.1" cy="1196.6" r="3.3" fill="#fff" stroke="#1515c8" stroke-width="1.35"/>
<circle cx="1858.1" cy="1205.2" r="3.3" fill="#fff" stroke="#1515c8" stroke-width="1.35"/>
<circle cx="1858.1" cy="1216.5" r="3.3" fill="#fff" stroke="#1515c8" stroke-width="1.35"/>
<circle cx="1820.9" cy="1227.9" r="3.3" fill="#fff" stroke="#1515c8" stroke-width="1.35"/>
<circle cx="1820.9" cy="1241.3" r="3.3" fill="#fff" stroke="#1515c8" stroke-width="1.35"/>
<circle cx="1820.9" cy="1246.5" r="3.3" fill="#fff" stroke="#1515c8" stroke-width="1.35"/>
<line x1="1569.6" y1="1094" x2="1569.6" y2="1349.3" stroke="#000" stroke-width="4.2" />
<line x1="1567.5" y1="1346.9" x2="1905" y2="1346.9" stroke="#000" stroke-width="4.9" />
<line x1="1569.6" y1="1113.9" x2="1584.6" y2="1113.9" stroke="#000" stroke-width="4" />
<line x1="1569.6" y1="1150.1" x2="1584.6" y2="1150.1" stroke="#000" stroke-width="4" />
<line x1="1569.6" y1="1186.3" x2="1584.6" y2="1186.3" stroke="#000" stroke-width="4" />
<line x1="1569.6" y1="1222.4" x2="1584.6" y2="1222.4" stroke="#000" stroke-width="4" />
<line x1="1569.6" y1="1257.9" x2="1584.6" y2="1257.9" stroke="#000" stroke-width="4" />
<line x1="1569.6" y1="1294" x2="1584.6" y2="1294" stroke="#000" stroke-width="4" />
<line x1="1569.6" y1="1330.2" x2="1584.6" y2="1330.2" stroke="#000" stroke-width="4" />
<line x1="1625" y1="1347" x2="1625" y2="1332" stroke="#000" stroke-width="4" />
<line x1="1735.9" y1="1347" x2="1735.9" y2="1332" stroke="#000" stroke-width="4" />
<line x1="1847.1" y1="1347" x2="1847.1" y2="1332" stroke="#000" stroke-width="4" />
<text transform="translate(1263.5 1372.6) rotate(-45)" font-size="26" text-anchor="end" fill="#111" >-3 - 1</text>
<text transform="translate(1377 1370) rotate(-45)" font-size="26" text-anchor="end" fill="#111" >1 - 4</text>
<text transform="translate(1491 1372.2) rotate(-45)" font-size="26" text-anchor="end" fill="#111" >4 - 7</text>
<text transform="translate(1626.4 1372.6) rotate(-45)" font-size="26" text-anchor="end" fill="#111" >-3 - 1</text>
<text transform="translate(1741.8 1370) rotate(-45)" font-size="26" text-anchor="end" fill="#111" >1 - 4</text>
<text transform="translate(1857 1372.5) rotate(-45)" font-size="26" text-anchor="end" fill="#111" >4 - 7</text>
<text x="1372.3" y="1461.5" font-size="33" text-anchor="middle" fill="#111" >Sessions</text>
<text x="1735.9" y="1461.5" font-size="33" text-anchor="middle" fill="#111" >Sessions</text>
<text x="1370.6" y="1030.6" font-size="32" text-anchor="middle" fill="#111" >WT</text>
<text x="1681" y="1042" font-size="32.8" font-style="italic" text-anchor="start" fill="#111">16p11.2<tspan font-size="19.7" dy="-22.1" dx="-1">+/-</tspan></text>
<text transform="translate(1079 1232.5) rotate(-90)" font-size="33.3" text-anchor="middle" fill="#111" >Spine Dynamics</text>
<text transform="translate(1119 1227.5) rotate(-90)" font-size="33.7" text-anchor="middle" fill="#111" >(fraction)</text>
<text x="1887" y="1150" font-size="26.6" text-anchor="start" fill="#111" >Addition</text>
<text x="1871" y="1312" font-size="26.3" text-anchor="start" fill="#111" >Elimination</text>
<path d="M1928.7 1162L1939.5 1183H1933.4V1211H1924V1183H1917.9Z" fill="#000"/>
<path d="M1928.7 1274.5L1939.5 1254H1933.4V1230.5H1924V1254H1917.9Z" fill="#000"/>
</svg>
</body></html>
